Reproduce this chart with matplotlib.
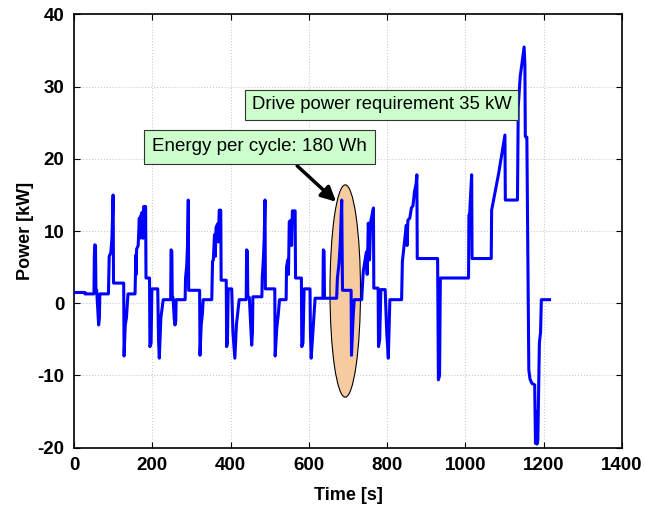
import matplotlib
matplotlib.use('Agg')
import matplotlib.pyplot as plt
from matplotlib.patches import Ellipse

# drive cycle power profile (time in s, power in kW)
time_s = [
    0, 28, 28, 51, 52, 53, 55, 56, 58, 61, 63, 65, 66, 88, 90, 94, 97, 100, 101, 127,
    128, 131, 134, 138, 156, 158, 159, 160, 164, 167, 168, 170, 174, 176, 178, 183, 184, 193,
    194, 197, 199, 214, 216, 218, 222, 228,
    247, 248, 250, 251, 253, 256, 258, 260, 261, 284, 285, 288, 290, 292, 293, 321,
    322, 325, 328, 330, 352, 354, 356, 359, 361, 363, 367, 369, 371, 375, 376, 389,
    390, 392, 394, 403, 406, 411, 415, 422,
    440, 441, 443, 444, 448, 452, 454, 456, 457, 480, 481, 484, 486, 488, 489, 513,
    514, 518, 522, 525, 542, 543, 546, 548, 550, 554, 556, 558, 565, 566, 581,
    582, 585, 588, 603, 604, 606, 611, 616,
    636, 637, 639, 640, 671, 673, 677, 680, 684, 686, 708, 709, 713, 716, 735,
    739, 747, 749, 752, 755, 758, 765, 766, 777, 778, 781, 784, 795, 799, 803, 807,
    837, 839, 849, 851, 853, 858, 862, 866, 870, 874, 876, 877, 929, 931, 934, 936,
    1008, 1009, 1011, 1013, 1016, 1017, 1066, 1067, 1085, 1101, 1102, 1133,
    1135, 1140, 1146, 1150, 1152, 1153, 1157, 1162, 1165, 1170, 1177, 1179, 1181, 1183,
    1185, 1189, 1192, 1194, 1215,
]
power_kw = [
    1.5, 1.5, 1.3, 1.3, 6.5, 8.1, 8.0, 2.0, 1.8, -1.0, -3.0, -2.0, 1.3, 1.3, 6.5, 7.0, 9.0, 15.0, 2.8, 2.8,
    -7.3, -3.0, -2.0, 1.3, 1.3, 6.7, 4.0, 7.5, 8.0, 11.8, 9.0, 12.0, 12.6, 9.0, 13.4, 13.4, 3.5, 3.5,
    -6.0, -5.5, 2.0, 2.0, -5.0, -7.6, -2.0, 0.5,
    0.5, 7.4, 7.2, 1.0, 0.8, -2.0, -3.0, -2.5, 0.5, 0.5, 3.5, 5.2, 8.0, 14.3, 1.8, 1.8,
    -7.2, -3.0, -1.5, 0.5, 0.5, 5.8, 6.0, 9.5, 6.5, 10.5, 11.0, 8.5, 12.9, 12.9, 3.2, 3.2,
    -6.0, -5.5, 2.0, 2.0, -4.0, -7.6, -3.0, 0.5,
    0.5, 7.4, 7.2, 1.0, 0.8, -3.5, -5.8, -4.0, 0.9, 0.9, 3.5, 6.3, 9.0, 14.3, 2.0, 2.0,
    -7.3, -3.5, -1.5, 0.5, 0.5, 5.0, 6.0, 4.0, 11.3, 11.5, 8.0, 12.8, 12.8, 3.5, 3.5,
    -6.0, -5.5, 2.0, 2.0, -4.0, -7.6, -3.5, 0.7,
    0.7, 7.4, 7.2, 0.7, 0.7, 3.5, 5.5, 8.0, 14.3, 1.8, 1.8, -7.2, -2.1, 0.5, 0.5,
    4.4, 7.1, 4.0, 11.1, 6.0, 11.3, 13.2, 2.1, 2.1, -6.0, -5.0, 1.9, 1.9, -4.0, -7.6, 0.5,
    0.5, 5.8, 10.8, 8.0, 11.5, 11.8, 13.2, 13.5, 15.5, 16.5, 17.8, 6.2, 6.2, -10.6, -10.0, 3.5,
    3.5, 12.2, 12.5, 14.8, 17.8, 6.2, 6.2, 12.9, 18.0, 23.3, 14.3, 14.3,
    27.2, 31.4, 33.9, 35.5, 33.0, 23.1, 23.0, -9.2, -10.5, -11.1, -11.3, -19.4, -15.0, -19.5,
    -19.0, -5.5, -4.0, 0.5, 0.5,
]

plt.rcParams['font.family'] = ['Liberation Sans', 'DejaVu Sans']
plt.rcParams['axes.unicode_minus'] = False

fig = plt.figure(figsize=(6.45, 5.08), dpi=100)
ax = fig.add_axes([0.1147, 0.1187, 0.8496, 0.8528])

# highlighted cycle
ell = Ellipse((693, 1.7), 78, 29.4, facecolor='#f7cba0', edgecolor='black', lw=0.8, zorder=2)
ax.add_patch(ell)

ax.plot(time_s, power_kw, color='#0000ff', lw=2.2, zorder=3)

ax.set_xlim(0, 1400)
ax.set_ylim(-20, 40)
ax.set_xticks(range(0, 1401, 200))
ax.set_yticks(range(-20, 41, 10))
ax.grid(True, color='#cccccc', lw=0.8, ls=':')
ax.set_axisbelow(True)
ax.tick_params(direction='in', top=True, right=True, length=4, labelsize=13.5, pad=7)
for lbl in ax.get_xticklabels() + ax.get_yticklabels():
    lbl.set_fontweight('bold')
for sp in ax.spines.values():
    sp.set_linewidth(1.2)

ax.set_xlabel('Time [s]', fontsize=13, fontweight='bold', labelpad=9)
ax.set_ylabel('Power [kW]', fontsize=13, fontweight='bold', labelpad=2)

# annotations
box = dict(boxstyle='square,pad=0.45', facecolor='#ccffcc', edgecolor='#333333', lw=0.8)
ax.text(474, 21.7, 'Energy per cycle: 180 Wh', fontsize=13.5, ha='center', va='center',
        bbox=box, zorder=5)
ax.text(786, 27.5, 'Drive power requirement 35 kW', fontsize=13.3, ha='center', va='center',
        bbox=dict(boxstyle='square,pad=0.35', facecolor='#ccffcc', edgecolor='#333333', lw=0.8),
        zorder=5)
ax.annotate('', xy=(675, 13.8), xytext=(565, 19.3),
            arrowprops=dict(arrowstyle='-|>', color='black', lw=2.5, mutation_scale=22),
            zorder=4)

fig.savefig('out.png', dpi=100)
